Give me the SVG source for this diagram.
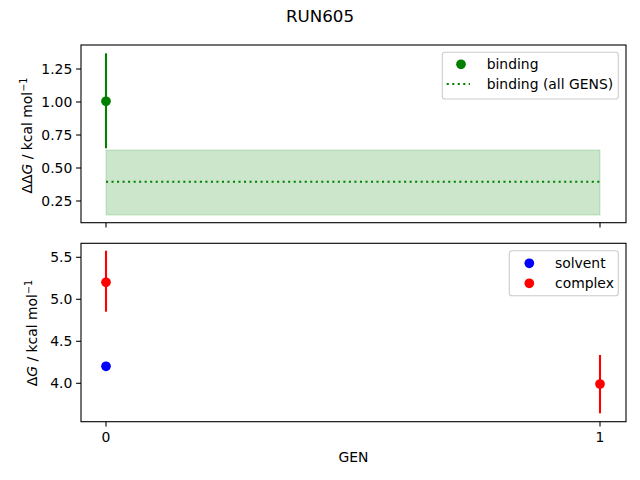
<svg xmlns="http://www.w3.org/2000/svg" width="640" height="480" viewBox="0 0 640 480">
<style>
text{font-family:"DejaVu Sans",sans-serif;font-size:13.9px;fill:#000}
.tl{text-anchor:end;dominant-baseline:central}
.tc{text-anchor:middle}
.ax{fill:none;stroke:#000;stroke-width:1.1}
.tk{stroke:#000;stroke-width:1.1}
.eb{stroke-width:2.08}
.leg{fill:#fff;fill-opacity:0.8;stroke:#ccc;stroke-width:1.1}
</style>
<rect width="640" height="480" fill="#fff"/>
<text x="320" y="21.7" class="tc" style="font-size:16.7px">RUN605</text>

<g id="top-axes">
<rect x="106" y="150" width="494" height="65" fill="#008000" fill-opacity="0.2" stroke="#008000" stroke-opacity="0.2" stroke-width="1"/>
<line x1="106" y1="181.7" x2="600" y2="181.7" stroke="#008000" stroke-width="2.08" stroke-dasharray="2.08 3.44"/>
<line class="eb" x1="106" y1="53.3" x2="106" y2="148.3" stroke="#008000"/>
<circle cx="106" cy="101.3" r="4.85" fill="#008000"/>
<rect class="ax" x="81" y="45" width="545" height="177.7"/>
<g class="tk">
<line x1="76.1" y1="69" x2="81" y2="69"/>
<line x1="76.1" y1="102" x2="81" y2="102"/>
<line x1="76.1" y1="135" x2="81" y2="135"/>
<line x1="76.1" y1="168" x2="81" y2="168"/>
<line x1="76.1" y1="201" x2="81" y2="201"/>
<line x1="106" y1="222.7" x2="106" y2="227.6"/>
<line x1="600" y1="222.7" x2="600" y2="227.6"/>
</g>
<text class="tl" x="72.3" y="69">1.25</text>
<text class="tl" x="72.3" y="102">1.00</text>
<text class="tl" x="72.3" y="135">0.75</text>
<text class="tl" x="72.3" y="168">0.50</text>
<text class="tl" x="72.3" y="201">0.25</text>
<text class="tc" transform="translate(31.5,135.5) rotate(-90)">ΔΔ<tspan font-style="italic">G</tspan> / kcal mol<tspan baseline-shift="super" style="font-size:9.7px">−1</tspan></text>
</g>

<g id="top-legend">
<rect class="leg" x="442.3" y="52.3" width="176" height="46.7" rx="2.8"/>
<circle cx="461" cy="64.3" r="4.85" fill="#008000"/>
<line x1="446.7" y1="84" x2="470" y2="84" stroke="#008000" stroke-width="2.08" stroke-dasharray="2.08 3.44"/>
<text x="486.7" y="69.2">binding</text>
<text x="486.7" y="89">binding (all GENS)</text>
</g>

<g id="bottom-axes">
<line class="eb" x1="106" y1="250.7" x2="106" y2="311.7" stroke="#ff0000"/>
<line class="eb" x1="600" y1="355" x2="600" y2="413.3" stroke="#ff0000"/>
<line class="eb" x1="106" y1="363.5" x2="106" y2="369" stroke="#0000ff"/>
<circle cx="106" cy="366.3" r="4.85" fill="#0000ff"/>
<circle cx="106" cy="282.3" r="4.85" fill="#ff0000"/>
<circle cx="600" cy="384" r="4.85" fill="#ff0000"/>
<rect class="ax" x="81" y="243.3" width="545" height="178.4"/>
<g class="tk">
<line x1="76.1" y1="257.3" x2="81" y2="257.3"/>
<line x1="76.1" y1="299.3" x2="81" y2="299.3"/>
<line x1="76.1" y1="341.3" x2="81" y2="341.3"/>
<line x1="76.1" y1="383.3" x2="81" y2="383.3"/>
<line x1="106" y1="421.7" x2="106" y2="426.6"/>
<line x1="600" y1="421.7" x2="600" y2="426.6"/>
</g>
<text class="tl" x="72.3" y="257.3">5.5</text>
<text class="tl" x="72.3" y="299.3">5.0</text>
<text class="tl" x="72.3" y="341.3">4.5</text>
<text class="tl" x="72.3" y="383.3">4.0</text>
<text class="tc" x="106" y="441.5">0</text>
<text class="tc" x="600" y="441.5">1</text>
<text class="tc" x="353.5" y="462">GEN</text>
<text class="tc" transform="translate(37,333) rotate(-90)">Δ<tspan font-style="italic">G</tspan> / kcal mol<tspan baseline-shift="super" style="font-size:9.7px">−1</tspan></text>
</g>

<g id="bottom-legend">
<rect class="leg" x="509.3" y="250.7" width="109" height="45" rx="2.8"/>
<circle cx="529.3" cy="263.3" r="4.85" fill="#0000ff"/>
<circle cx="529.3" cy="283.3" r="4.85" fill="#ff0000"/>
<text x="555" y="268">solvent</text>
<text x="555" y="288">complex</text>
</g>
</svg>
